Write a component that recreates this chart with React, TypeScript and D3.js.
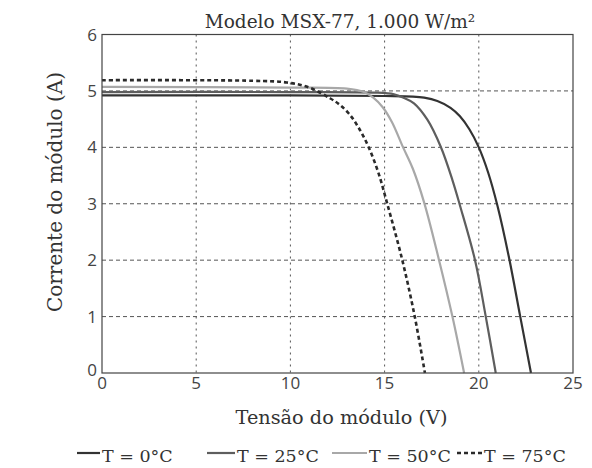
import React from "react";
import * as d3 from "d3";

const title = "Modelo MSX-77, 1.000 W/m²";
const xLabel = "Tensão do módulo (V)";
const yLabel = "Corrente do módulo (A)";
const xTicks = [0, 5, 10, 15, 20, 25];
const yTicks = [0, 1, 2, 3, 4, 5, 6];

const seriesNames = ["T = 0°C", "T = 25°C", "T = 50°C", "T = 75°C"];

const v0 = [0, 10, 15, 16.5, 17.1, 17.8, 18.5, 19.0, 19.5, 20.0, 20.5, 21.0, 21.6, 22.2, 22.77];
const i0 = [4.92, 4.92, 4.91, 4.9, 4.88, 4.82, 4.7, 4.55, 4.32, 4.0, 3.55, 2.95, 2.05, 1.0, 0];

const v25 = [0, 10, 14.5, 15.5, 16.0, 16.56, 17.27, 17.98, 18.6, 19.0, 19.8, 20.37, 20.9];
const i25 = [4.98, 4.98, 4.97, 4.94, 4.88, 4.78, 4.49, 4.01, 3.42, 2.97, 2.0, 1.0, 0];

const v50 = [0, 10, 13.0, 13.9, 14.4, 14.9, 15.4, 15.94, 16.5, 17.1, 17.89, 18.6, 19.22];
const i50 = [5.07, 5.06, 5.04, 4.98, 4.88, 4.71, 4.44, 4.03, 3.62, 3.02, 2.0, 1.0, 0];

const v75 = [0, 8, 9.8, 11, 12.1, 12.6, 13.1, 13.6, 14.13, 14.66, 15.14, 15.94, 16.6, 17.14];
const i75 = [5.19, 5.18, 5.15, 5.06, 4.87, 4.76, 4.6, 4.36, 4.02, 3.56, 3.0, 2.0, 1.0, 0];

const seriesV = [v0, v25, v50, v75];
const seriesI = [i0, i25, i50, i75];

const colors = ["#333333", "#5e5e5e", "#a8a8a8", "#2a2a2a"];
const dashes = [null, null, null, "4,3"];

const serif = "'DejaVu Serif', serif";
const sans = "'Open Sans', sans-serif";

export default function App() {
  const left = 102, right = 573, top = 34.5, bottom = 373;
  const x = d3.scaleLinear().domain([0, 25]).range([left, right]);
  const y = d3.scaleLinear().domain([0, 6]).range([bottom, top]);
  const line = d3
    .line<[number, number]>()
    .x((d) => x(d[0]))
    .y((d) => y(d[1]))
    .curve(d3.curveCatmullRom.alpha(0.5));

  const legendItems = [
    { lx: 77, tx: 102 },
    { lx: 207, tx: 237 },
    { lx: 332, tx: 369 },
    { lx: 457, tx: 484 },
  ];

  return (
    <svg
      width={592}
      height={468}
      style={{ position: "absolute", left: 0, top: 0, background: "#fff" }}
    >
      <rect x={0} y={0} width={592} height={468} fill="#fff" />
      {/* grid */}
      {xTicks.slice(1, -1).map((t) => (
        <line
          key={"gx" + t}
          x1={x(t)}
          x2={x(t)}
          y1={top}
          y2={bottom}
          stroke="#555"
          strokeWidth={1}
          strokeDasharray="2,4"
        />
      ))}
      {yTicks.slice(1, -1).map((t) => (
        <line
          key={"gy" + t}
          x1={left}
          x2={right}
          y1={y(t)}
          y2={y(t)}
          stroke="#555"
          strokeWidth={1}
          strokeDasharray="4,3"
        />
      ))}
      {/* curves */}
      {seriesV.map((vs, k) => {
        const pts: [number, number][] = vs.map((v, j) => [v, seriesI[k][j]]);
        return (
          <path
            key={"s" + k}
            d={line(pts) || ""}
            fill="none"
            stroke={colors[k]}
            strokeWidth={k === 3 ? 2.6 : 2.2}
            strokeDasharray={dashes[k] || undefined}
          />
        );
      })}
      {/* frame */}
      <rect
        x={left}
        y={top}
        width={right - left}
        height={bottom - top}
        fill="none"
        stroke="#444"
        strokeWidth={1.2}
      />
      {/* tick labels */}
      {xTicks.map((t) => (
        <text
          key={"xt" + t}
          x={x(t)}
          y={389}
          textAnchor="middle"
          fontFamily={sans}
          fontSize={17}
          fill="#444"
        >
          {t}
        </text>
      ))}
      {yTicks.map((t) => (
        <text
          key={"yt" + t}
          x={left - 5}
          y={y(t) + (t === 0 ? 3 : 6)}
          textAnchor="end"
          fontFamily={sans}
          fontSize={17}
          fill="#444"
        >
          {t}
        </text>
      ))}
      {/* title */}
      <text
        x={340}
        y={28}
        textAnchor="middle"
        fontFamily={serif}
        fontSize={18.5}
        fill="#333"
      >
        {title}
      </text>
      <text
        x={341.5}
        y={424}
        textAnchor="middle"
        fontFamily={serif}
        fontSize={19.3}
        fill="#333"
      >
        {xLabel}
      </text>
      <text
        transform={`translate(62,192) rotate(-90)`}
        textAnchor="middle"
        fontFamily={serif}
        fontSize={20}
        fill="#333"
      >
        {yLabel}
      </text>
      {/* legend */}
      {legendItems.map((it, k) => (
        <g key={"lg" + k}>
          <line
            x1={it.lx}
            x2={it.tx - 2}
            y1={453}
            y2={453}
            stroke={colors[k]}
            strokeWidth={k === 3 ? 2.6 : 2.2}
            strokeDasharray={dashes[k] || undefined}
          />
          <text
            x={it.tx}
            y={461.5}
            fontFamily={serif}
            fontSize={17.5}
            fill="#333"
          >
            {seriesNames[k]}
          </text>
        </g>
      ))}
    </svg>
  );
}
